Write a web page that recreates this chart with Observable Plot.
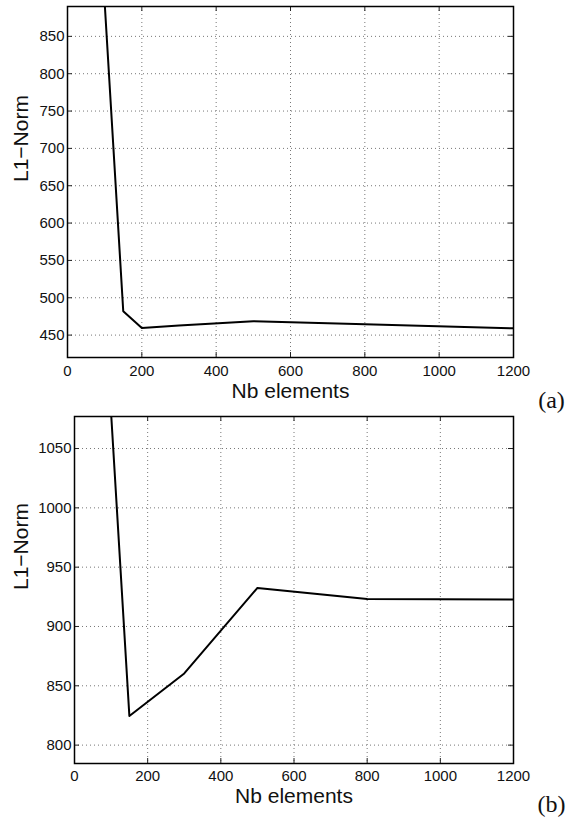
<!DOCTYPE html>
<html>
<head>
<meta charset="utf-8">
<script src="https://cdn.jsdelivr.net/npm/d3@7"></script>
<script src="https://cdn.jsdelivr.net/npm/@observablehq/plot@0.6"></script>
<style>
  html, body { margin: 0; padding: 0; background: #fff; }
  #wrap { position: relative; width: 566px; height: 818px; }
  #wrap > svg { position: absolute; left: 0; overflow: visible; }
</style>
</head>
<body>
<div id="wrap"></div>
<script>
// Shared x axis ticks
const xTicks = [0, 200, 400, 600, 800, 1000, 1200];

// Panel (a)
const nbA = [100, 150, 200, 300, 500, 800, 1200];
const l1A = [895, 482, 459.5, 463, 468.5, 464.5, 459];
const yTicksA = [450, 500, 550, 600, 650, 700, 750, 800, 850];
const yDomainA = [420, 890];

// Panel (b)
const nbB = [100, 150, 300, 500, 800, 1200];
const l1B = [1080, 824.5, 860.4, 932.5, 923.2, 922.7];
const yTicksB = [800, 850, 900, 950, 1000, 1050];
const yDomainB = [784.5, 1077];

const xLabel = "Nb elements";
const yLabel = "L1\u2212Norm";

function panel({nb, l1, yTicks, yDomain, tag, height, mTop, mBottom, mLeft, mRight, tickPad, xlDy, tagDy}) {
  const data = nb.map((x, i) => ({x, y: l1[i]}));
  const fw = 566 - mLeft - mRight;
  const fh = height - mTop - mBottom;
  const tickLen = 5;
  const fmt = d3.format("d");
  return Plot.plot({
    width: 566,
    height,
    marginTop: mTop,
    marginBottom: mBottom,
    marginLeft: mLeft,
    marginRight: mRight,
    style: {fontFamily: "Liberation Sans, Arial, sans-serif", fontSize: "15px", color: "#222", background: "transparent", overflow: "visible"},
    x: {domain: [0, 1200]},
    y: {domain: yDomain},
    marks: [
      Plot.gridX(xTicks, {stroke: "#777", strokeOpacity: 1, strokeDasharray: "1,3"}),
      Plot.gridY(yTicks, {stroke: "#777", strokeOpacity: 1, strokeDasharray: "1,3"}),
      Plot.line(data, {x: "x", y: "y", stroke: "black", strokeWidth: 2, clip: true}),
      // inward ticks on all four sides
      Plot.tickX(xTicks, {x: d => d, stroke: "#222", insetTop: fh - tickLen}),
      Plot.tickX(xTicks, {x: d => d, stroke: "#222", insetBottom: fh - tickLen}),
      Plot.tickY(yTicks, {y: d => d, stroke: "#222", insetRight: fw - tickLen}),
      Plot.tickY(yTicks, {y: d => d, stroke: "#222", insetLeft: fw - tickLen}),
      Plot.axisX({ticks: xTicks, tickFormat: fmt, tickSize: 0, tickPadding: tickPad, label: null, fill: "#111", fontSize: 15}),
      Plot.axisY({ticks: yTicks, tickFormat: fmt, tickSize: 0, tickPadding: 3, label: null, fill: "#111", fontSize: 15}),
      Plot.frame({stroke: "black", strokeWidth: 1.5}),
      Plot.text([xLabel], {frameAnchor: "bottom", lineAnchor: "middle", dy: xlDy, fontSize: 21, fill: "#111"}),
      Plot.text([yLabel], {frameAnchor: "left", lineAnchor: "middle", dx: -mLeft + 21, rotate: -90, fontSize: 21, fill: "#111"}),
      Plot.text([tag], {frameAnchor: "bottom-right", textAnchor: "middle", lineAnchor: "middle", dx: 38, dy: tagDy, fontSize: 24, fontFamily: "Liberation Serif, DejaVu Serif, serif", fill: "#111"})
    ]
  });
}

const wrap = document.getElementById("wrap");
const a = panel({nb: nbA, l1: l1A, yTicks: yTicksA, yDomain: yDomainA, tag: "(a)",
  height: 410, mTop: 6, mBottom: 53, mLeft: 67, mRight: 53, tickPad: 8, xlDy: 34, tagDy: 43});
a.style.top = "0px";
wrap.appendChild(a);
const b = panel({nb: nbB, l1: l1B, yTicks: yTicksB, yDomain: yDomainB, tag: "(b)",
  height: 408, mTop: 6, mBottom: 55, mLeft: 74, mRight: 53, tickPad: 7, xlDy: 33, tagDy: 41});
b.style.top = "410px";
wrap.appendChild(b);
</script>
</body>
</html>
